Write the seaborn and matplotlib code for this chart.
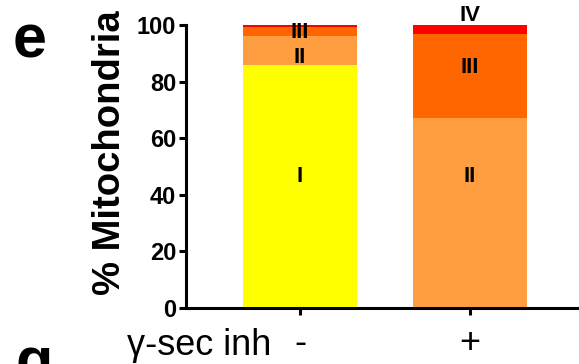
import matplotlib
matplotlib.use('Agg')
import pandas as pd
import seaborn as sns
import matplotlib.pyplot as plt

# Treatment groups and share of mitochondria per class (%)
conditions = ['-', '+']
class_names = ['I', 'II', 'III', 'IV']
class_I = [86.0, 0.0]
class_II = [10.0, 67.0]
class_III = [3.3, 29.8]
class_IV = [0.7, 3.2]
class_colors = ['#FFFF00', '#FF9E40', '#FF6600', '#FF0000']

# in-bar class labels and where they sit (y in %)
label_text = [['I', 'II', 'III'], ['II', 'III', 'IV']]
label_y = [[46.5, 88.5, 97.2], [46.5, 85.0, 103.5]]

sns.set_style('ticks')
plt.rcParams['font.family'] = ['Liberation Sans', 'DejaVu Sans']
plt.rcParams.update({'text.color': 'black', 'axes.labelcolor': 'black',
                     'xtick.color': 'black', 'ytick.color': 'black',
                     'axes.edgecolor': 'black'})

df = pd.DataFrame({'cond': conditions, 'I': class_I, 'II': class_II,
                   'III': class_III, 'IV': class_IV})
cum = df[class_names].cumsum(axis=1)

fig = plt.figure(figsize=(5.79, 3.64), dpi=100)
ax = fig.add_axes([186 / 579, 1 - 308 / 364, 1 - 186 / 579, 283 / 364])

# stacked bars: draw cumulative totals from the top class down
for name, color in reversed(list(zip(class_names, class_colors))):
    sns.barplot(x=df['cond'], y=cum[name], order=conditions, color=color,
                saturation=1, width=0.67, errorbar=None, linewidth=0, ax=ax)

for i, (texts, ys) in enumerate(zip(label_text, label_y)):
    for t, y in zip(texts, ys):
        ax.text(i, y, t, ha='center', va='center', fontsize=16, fontweight='bold',
                family=['Liberation Sans Narrow', 'Liberation Sans'], clip_on=False)

ax.set_ylim(0, 100)
ax.set_xlim(-0.67, 1.64)
ax.set_yticks([0, 20, 40, 60, 80, 100])
ax.set_xlabel('')
ax.set_ylabel('')
sns.despine(ax=ax)
for side in ['left', 'bottom']:
    ax.spines[side].set_linewidth(2.2)
ax.tick_params(axis='y', labelsize=17, width=2.2, length=5, pad=2)
ax.tick_params(axis='x', labelsize=26, width=2.2, length=5, pad=8)
for lab in ax.get_yticklabels():
    lab.set_fontweight('bold')

fig.text(110 / 579, 1 - 153 / 364, '% Mitochondria', rotation=90, ha='center',
         va='center', fontsize=27.5, fontweight='bold')
fig.text(127 / 579, 1 - 355 / 364, 'γ-sec inh', ha='left', va='baseline', fontsize=26)
fig.text(13 / 579, 1 - 57 / 364, 'e', ha='left', va='baseline', fontsize=44, fontweight='bold')
fig.text(15 / 579, 1 - 380 / 364, 'g', ha='left', va='baseline', fontsize=44, fontweight='bold')

fig.savefig('out.png', dpi=100)
